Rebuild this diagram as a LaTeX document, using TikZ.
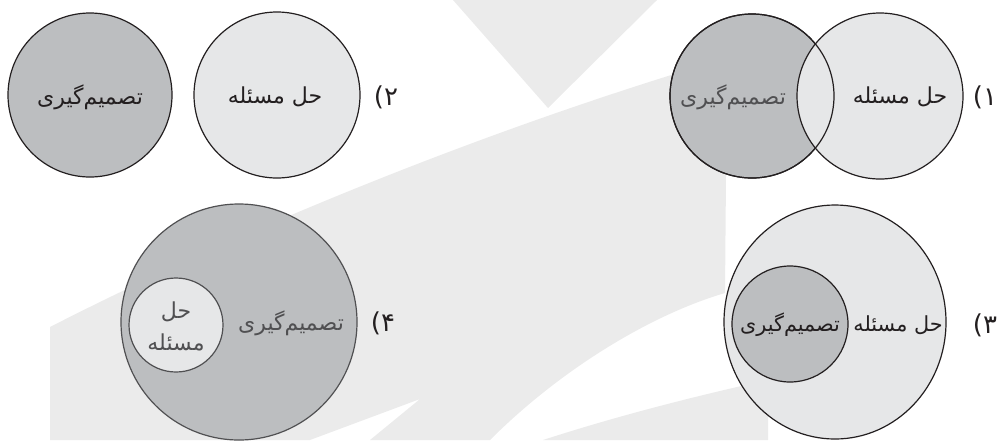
\documentclass[tikz,border=0pt]{standalone}
\usepackage{fontspec}
\usetikzlibrary{shapes.geometric}
\newfontfamily\fafont[Script=Arabic]{DejaVu Sans}
\TeXXeTstate=1
\newcommand{\pers}[1]{{\fafont\beginR #1\endR}}
\definecolor{ink}{RGB}{35,31,32}
\definecolor{inkgray}{RGB}{80,80,82}
\definecolor{darkfill}{RGB}{188,190,192}
\definecolor{lightfill}{RGB}{230,231,232}
\definecolor{wm}{RGB}{235,235,235}
\tikzset{
  disc/.style={circle, draw=ink, line width=0.6pt, inner sep=0pt, minimum size=#1},
  darkdisc/.style={disc=#1, fill=darkfill},
  lightdisc/.style={disc=#1, fill=lightfill},
  fatext/.style={inner sep=0pt, text=ink, font=\fontsize{11}{13}\selectfont},
  smalltext/.style={inner sep=0pt, text=ink, font=\fontsize{10.4}{12}\selectfont},
  grtext/.style={fatext, text=inkgray},
  numlabel/.style={inner sep=0pt, text=ink, font=\fontsize{13}{15}\selectfont}
}
\begin{document}
\begin{tikzpicture}[x=0.5pt,y=-0.5pt]
\useasboundingbox (0,0) rectangle (1000,440);
% watermark background
\fill[wm] (453,0) -- (657,0) -- (548,108) -- cycle;
\fill[wm] (50,327) .. controls (200,250) and (450,140) .. (727,58) -- (725,293)
  .. controls (650,315) and (560,370) .. (490,440) -- (370,440) -- (420,399)
  -- (310,440) -- (50,440) -- cycle;
\fill[wm] (543,440) .. controls (620,415) and (700,395) .. (768,380) -- (768,440) -- cycle;

% panel 1
\node[darkdisc=82pt] (p1d) at (752,96) {};
\node[lightdisc=83pt] (p1l) at (880,96) {};
\node[disc=82pt] (p1o) at (752,96) {};
\node[grtext] (p1t1) at (733,97) {\pers{تصمیم‌گیری}};
\node[fatext] (p1t2) at (900,97) {\pers{حل مسئله}};
\node[numlabel] (n1) at (985,97) {\pers{۱)}};

% panel 2
\node[darkdisc=82pt] (p2d) at (90,95) {};
\node[lightdisc=83pt] (p2l) at (277,95) {};
\node[fatext] (p2t1) at (90,97) {\pers{تصمیم‌گیری}};
\node[fatext] (p2t2) at (275,97) {\pers{حل مسئله}};
\node[numlabel] (n2) at (386,97) {\pers{۲)}};

% panel 3
\node[ellipse, draw=ink, line width=0.6pt, fill=lightfill, inner sep=0pt,
      minimum width=111pt, minimum height=117pt] (p3l) at (835,322) {};
\node[darkdisc=58pt] (p3d) at (790,324) {};
\node[smalltext] (p3t1) at (790,325) {\pers{تصمیم‌گیری}};
\node[smalltext] (p3t2) at (898,325) {\pers{حل مسئله}};
\node[numlabel] (n3) at (985,325) {\pers{۳)}};

% panel 4
\node[darkdisc=118pt, draw=inkgray] (p4d) at (239,322) {};
\node[lightdisc=47pt, draw=inkgray] (p4l) at (176,325) {};
\node[grtext] (p4t1) at (176,312) {\pers{حل}};
\node[grtext] (p4t2) at (176,342) {\pers{مسئله}};
\node[grtext] (p4t3) at (291,323) {\pers{تصمیم‌گیری}};
\node[numlabel] (n4) at (383,323) {\pers{۴)}};
\end{tikzpicture}
\end{document}
